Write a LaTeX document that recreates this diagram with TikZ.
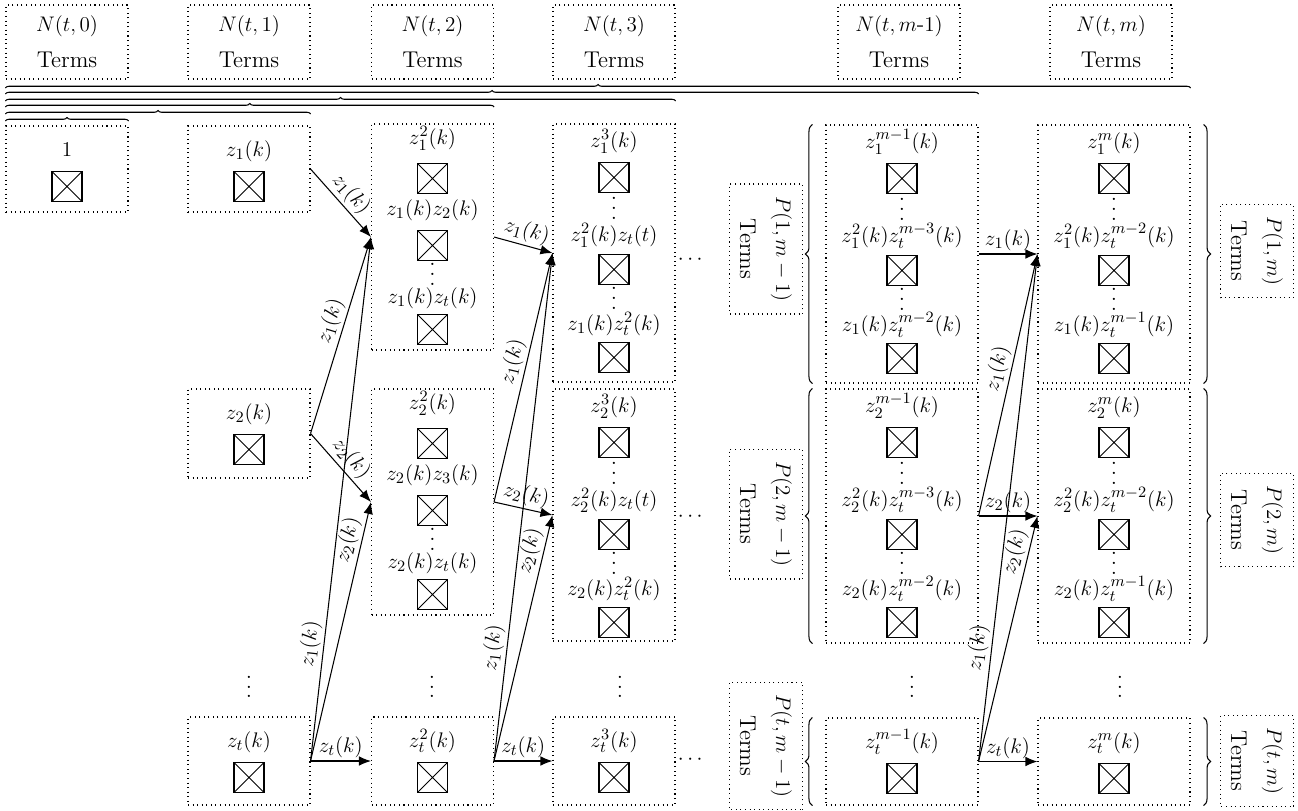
\documentclass[tikz,border=0pt]{standalone}
\usepackage{amsmath}
\usepackage{tikz}
\usetikzlibrary{positioning,arrows.meta,calc,decorations.pathreplacing}
\newcommand{\fnt}{\fontsize{13}{15.5}\selectfont}
\newcommand{\vdotsx}{\vbox{\baselineskip=5.6pt\lineskiplimit=0pt\hbox{.}\hbox{.}\hbox{.}}}
\tikzset{
  >={Latex[length=2.4mm,width=1.9mm]},
  frm/.style={draw,dotted,line width=0.6pt,inner sep=0pt},
  hbox/.style={frm,minimum width=24.4mm,minimum height=14.8mm,align=center,font=\fnt},
  nbox/.style={frm,minimum width=24.4mm},
  wbox/.style={frm,minimum width=30.4mm},
  pbox/.style={frm,rotate=-90,align=center,font=\fnt,inner xsep=2.4mm,minimum height=14.6mm},
  xsq/.style={draw,line width=0.7pt,minimum size=6mm,inner sep=0pt,
    path picture={\draw[line width=0.45pt]
      (path picture bounding box.north west)--(path picture bounding box.south east)
      (path picture bounding box.north east)--(path picture bounding box.south west);}},
  trm/.style={font=\fnt,inner sep=0pt,anchor=base},
  dts/.style={font=\fnt,inner sep=0pt},
  lab/.style={font=\fnt,inner sep=1.5pt,sloped,above},
  arr/.style={->,line width=0.6pt},
  brc/.style={decorate,decoration={brace,amplitude=2pt},line width=0.6pt},
  sbrc/.style={decorate,decoration={brace,amplitude=4pt},line width=0.6pt},
}

\begin{document}
\begin{tikzpicture}[x=0.2mm,y=-0.2mm]
  \useasboundingbox (0,0) rectangle (1298,810);
  % header boxes
  \foreach \nm/\x/\k in {h0/67/0,h1/249/1,h2/432.5/2,h3/614/3,hm1/899/m\text{-}1,hm/1111/m}
    \node[hbox] (\nm) at (\x,42) {$N(t,\k)$\\[5pt]Terms};
  % term boxes
  \node[nbox,minimum height=17.2mm] (c0) at (67,169) {};
  \node[nbox,minimum height=17.2mm] (a1) at (249,169) {};
  \node[nbox,minimum height=17.8mm] (b1) at (249,433.5) {};
  \node[nbox,minimum height=17.6mm] (t1) at (249,761) {};
  \node[nbox,minimum height=45.2mm] (a2) at (432.5,237) {};
  \node[nbox,minimum height=45.2mm] (b2) at (432.5,502) {};
  \node[nbox,minimum height=17.6mm] (t2) at (432.5,761) {};
  \node[nbox,minimum height=51.6mm] (a3) at (614,253) {};
  \node[nbox,minimum height=50.4mm] (b3) at (614,515) {};
  \node[nbox,minimum height=17.6mm] (t3) at (614,761) {};
  \node[wbox,minimum height=51.6mm] (am1) at (902,254) {};
  \node[wbox,minimum height=50.8mm] (bm1) at (902,516) {};
  \node[wbox,minimum height=17.4mm] (tm1) at (902,761.5) {};
  \node[wbox,minimum height=51.6mm] (am) at (1114,254) {};
  \node[wbox,minimum height=50.8mm] (bm) at (1114,516) {};
  \node[wbox,minimum height=17.4mm] (tm) at (1114,761.5) {};
  % one term
  \foreach \b/\p in {c0/1,a1/z_1(k),b1/z_2(k),t1/z_t(k),t2/z_t^2(k),t3/z_t^3(k),tm1/z_t^{m-1}(k),tm/z_t^m(k)}{
    \node[trm] (\b-1) at ($(\b.north)+(0,31)$) {$\p$};
    \node[xsq] (\b-s1) at ($(\b.north)+(0,61)$) {};
  }
  % second column
  \foreach \b/\p/\q/\r in {a2/{z_1^2(k)}/{z_1(k)z_2(k)}/{z_1(k)z_t(k)},
                           b2/{z_2^2(k)}/{z_2(k)z_3(k)}/{z_2(k)z_t(k)}}{
    \node[trm] (\b-1) at ($(\b.north)+(0,21)$) {$\p$};
    \node[xsq] (\b-s1) at ($(\b.north)+(0,55)$) {};
    \node[trm] (\b-2) at ($(\b.north)+(0,92)$) {$\q$};
    \node[xsq] (\b-s2) at ($(\b.north)+(0,122)$) {};
    \node[dts] (\b-d2) at ($(\b.north)+(0,151)$) {\vdotsx};
    \node[trm] (\b-3) at ($(\b.north)+(0,180)$) {$\r$};
    \node[xsq] (\b-s3) at ($(\b.north)+(0,206)$) {};
  }
  % three terms
  \foreach \b/\p/\q/\r in {a3/{z_1^3(k)}/{z_1^2(k)z_t(t)}/{z_1(k)z_t^2(k)},
                           b3/{z_2^3(k)}/{z_2^2(k)z_t(t)}/{z_2(k)z_t^2(k)},
                           am1/{z_1^{m-1}(k)}/{z_1^2(k)z_t^{m-3}(k)}/{z_1(k)z_t^{m-2}(k)},
                           bm1/{z_2^{m-1}(k)}/{z_2^2(k)z_t^{m-3}(k)}/{z_2(k)z_t^{m-2}(k)},
                           am/{z_1^m(k)}/{z_1^2(k)z_t^{m-2}(k)}/{z_1(k)z_t^{m-1}(k)},
                           bm/{z_2^m(k)}/{z_2^2(k)z_t^{m-2}(k)}/{z_2(k)z_t^{m-1}(k)}}{
    \node[trm] (\b-1) at ($(\b.north)+(0,24)$) {$\p$};
    \node[xsq] (\b-s1) at ($(\b.north)+(0,54)$) {};
    \node[dts] (\b-d1) at ($(\b.north)+(0,85)$) {\vdotsx};
    \node[trm] (\b-2) at ($(\b.north)+(0,118)$) {$\q$};
    \node[xsq] (\b-s2) at ($(\b.north)+(0,146)$) {};
    \node[dts] (\b-d2) at ($(\b.north)+(0,175)$) {\vdotsx};
    \node[trm] (\b-3) at ($(\b.north)+(0,207)$) {$\r$};
    \node[xsq] (\b-s3) at ($(\b.north)+(0,234)$) {};
  }
  % P boxes
  \node[pbox] (pa1) at (766,249) {$P(1,m-1)$\\[5pt]Terms};
  \node[pbox] (pb1) at (766,514) {$P(2,m-1)$\\[5pt]Terms};
  \node[pbox] (pt1) at (766,746) {$P(t,m-1)$\\[5pt]Terms};
  \node[pbox] (pam) at (1257,251) {$P(1,m)$\\[5pt]Terms};
  \node[pbox] (pbm) at (1257,520) {$P(2,m)$\\[5pt]Terms};
  \node[pbox] (ptm) at (1257,761) {$P(t,m)$\\[5pt]Terms};
  % dots
  \foreach \n/\y in {1/260,2/517,3/760}
    \node[dts] (hd\n) at (692,\y) {$\cdots$};
  \foreach \n/\x in {1/249,2/432,3/620,4/912,5/1120}
    \node[dts] (vd\n) at (\x,687) {\vdotsx};
  % braces
  \foreach \b/\y in {c0/121,a1/114,a2/107,a3/101,am1/94,am/88}
    \draw[brc] (c0.west |- 0,\y) -- (\b.east |- 0,\y);
  \foreach \b in {am1,bm1,tm1}
    \draw[sbrc] ([xshift=-2.6mm]\b.south west) -- ([xshift=-2.6mm]\b.north west);
  \foreach \b in {am,bm,tm}
    \draw[sbrc] ([xshift=2.6mm]\b.north east) -- ([xshift=2.6mm]\b.south east);
  % arrows
  \foreach \sa/\sb/\sc/\ta/\tb/\tc in {a1/b1/t1/a2/b2/t2,a2/b2/t2/a3/b3/t3,am1/bm1/tm1/am/bm/tm}{
    \draw[arr] (\sa.east) -- node[lab] {$z_1(k)$} (\ta.west);
    \draw[arr] (\sb.east) -- node[lab,pos=.55] {$z_1(k)$} (\ta.west);
    \draw[arr] (\sb.east) -- node[lab] {$z_2(k)$} (\tb.west);
    \draw[arr] (\sc.east) -- node[lab,pos=.22] {$z_1(k)$} (\ta.west);
    \draw[arr] (\sc.east) -- node[lab,pos=.84] {$z_2(k)$} (\tb.west);
    \draw[arr] (\sc.east) -- node[lab] {$z_t(k)$} (\tc.west);
  }
\end{tikzpicture}
\end{document}
